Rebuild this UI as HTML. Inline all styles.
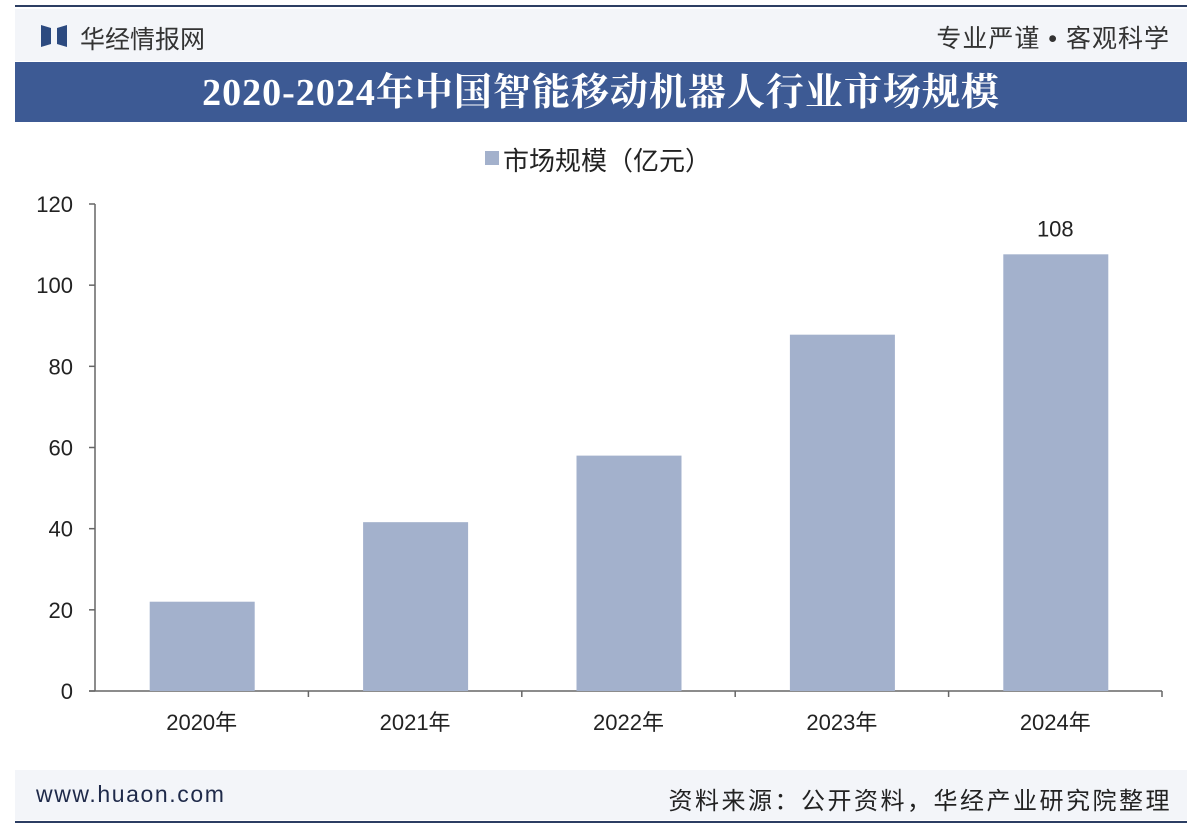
<!DOCTYPE html>
<html><head><meta charset="utf-8"><style>
body{margin:0;width:1200px;height:827px;background:#fff;position:relative;overflow:hidden;font-family:"Liberation Sans","Noto Sans CJK SC",sans-serif}
.abs{position:absolute}
</style></head><body>
<div class="abs" style="left:15px;top:5px;width:1172px;height:2px;background:#2c3e63"></div>
<div class="abs" style="left:15px;top:9px;width:1172px;height:52px;background:#f3f5f9"></div>
<div class="abs" style="left:41px;top:25px;width:26px;height:22px">
<svg width="26" height="22"><polygon points="0,0 10,3 10,19 0,22" fill="#2c4a80"/><polygon points="26,0 16,3 16,19 26,22" fill="#2c4a80"/></svg></div>
<div class="abs" style="left:80px;top:20px;font-size:25px;color:#333">华经情报网</div>
<div class="abs" style="right:30px;top:19px;font-size:25px;letter-spacing:1px;color:#333">专业严谨 • 客观科学</div>
<div class="abs" style="left:15px;top:62px;width:1172px;height:60px;background:#3d5a94;color:#fff;font-family:'Liberation Serif','Noto Serif CJK SC',serif;font-weight:bold;font-size:38px;line-height:62px;text-align:center;letter-spacing:1px">2020-2024年中国智能移动机器人行业市场规模</div>
<div class="abs" style="left:485px;top:151px;width:14px;height:14px;background:#a3b1cc"></div>
<div class="abs" style="left:503px;top:141px;font-size:26px;color:#222">市场规模（亿元）</div>
<svg class="abs" style="left:0;top:0" width="1200" height="770" id="chart"></svg>
<div class="abs" style="left:15px;top:770px;width:1172px;height:50px;background:#f3f5f9"></div>
<div class="abs" style="left:36px;top:781px;font-size:23px;letter-spacing:1.6px;color:#1f2a4a">www.huaon.com</div>
<div class="abs" style="right:28px;top:781px;font-size:24px;letter-spacing:2.5px;color:#222">资料来源：公开资料，华经产业研究院整理</div>
<div class="abs" style="left:15px;top:821px;width:1172px;height:2px;background:#2c3e63"></div>
<script>
const categories=["2020年","2021年","2022年","2023年","2024年"];
const values=[22,41.6,58,87.8,107.6];
const labels=["","","","","108"];
const yTicks=[0,20,40,60,80,100,120];
const svg=document.getElementById('chart');
const NS="http://www.w3.org/2000/svg";
const x0=95,x1=1162,y0=691,y1=204,yMax=120;
const y=v=>y0-(y0-y1)*v/yMax;
const bw=(x1-x0)/categories.length;
function mk(t,a){const e=document.createElementNS(NS,t);for(const k in a)e.setAttribute(k,a[k]);svg.appendChild(e);return e;}
let ax=mk('line',{x1:x0,y1:y1,x2:x0,y2:y0,stroke:'#666','stroke-width':1.5});


let bx=mk('line',{x1:x0-6,y1:y0,x2:x1,y2:y0,stroke:'#666','stroke-width':1.5});


yTicks.forEach(t=>{
 const tk=mk('line',{x1:x0-6,y1:y(t),x2:x0,y2:y(t),stroke:'#666','stroke-width':1.5});
 
 
 const tx=mk('text',{x:x0-22,y:y(t)+8,'text-anchor':'end','font-size':22,fill:'#222','font-family':'Liberation Sans'});
 tx.textContent=t;
 
 
});
categories.forEach((c,i)=>{
 const cx=x0+bw*(i+0.5);
 const tk=mk('line',{x1:x0+bw*(i+1),y1:y0,x2:x0+bw*(i+1),y2:y0+6,stroke:'#666','stroke-width':1.5});
 
 
 const r=mk('rect',{x:cx-52,y:y(values[i]),width:105,height:y0-y(values[i]),fill:'#a3b1cc'});
 
 
 const t=mk('text',{x:cx,y:730,'text-anchor':'middle','font-size':22,fill:'#222','font-family':'Liberation Sans, Noto Sans CJK SC'});
 t.textContent=c;
 
 
 if(labels[i]){const l=mk('text',{x:cx,y:y(values[i])-18,'text-anchor':'middle','font-size':22,fill:'#222','font-family':'Liberation Sans'});
 l.textContent=labels[i];
 
 }
});
</script>
</body></html>
